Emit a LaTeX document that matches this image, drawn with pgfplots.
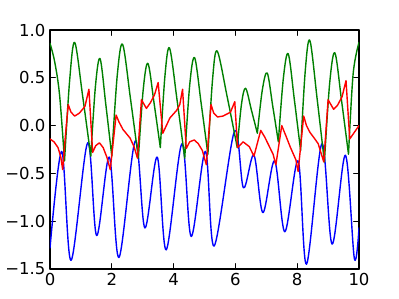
\documentclass[border=0pt]{standalone}
\usepackage{pgfplots}
\pgfplotsset{compat=1.18}
\usepackage{fontspec}
\setmainfont{DejaVu Sans}
\begin{document}
\begin{tikzpicture}[x=1pt,y=1pt]
\path[use as bounding box] (-50,-30) rectangle (349,269);
\begin{axis}[at={(0,0)}, anchor=south west, scale only axis,
  width=309pt, height=239pt,
  xmin=0, xmax=10, ymin=-1.5, ymax=1.0,
  xtick={0,2,4,6,8,10}, ytick={-1.5,-1.0,-0.5,0,0.5,1.0},
  xticklabels={0,2,4,6,8,10},
  yticklabels={−1.5,−1.0,−0.5,0.0,0.5,1.0},
  tick align=inside, major tick length=5.5pt,
  tick style={black, line width=0.7pt},
  axis line style={black, line width=1.2pt},
  ticklabel style={font=\fontsize{16.5}{18}\selectfont},
  xticklabel style={yshift=-1pt},
  yticklabel style={xshift=-1pt},
  unbounded coords=jump,
  line join=round, line cap=round,
]
% blue
\addplot[blue, line width=1.4pt, smooth, tension=0.55] coordinates {
(0,-1.28) (0.38,-0.27) (0.68,-1.41) (1.22,-0.18) (1.51,-1.15) (1.92,-0.33)
(2.23,-1.38) (2.76,-0.16) (3.07,-1.07) (3.47,-0.33) (3.76,-1.30) (4.27,-0.19)
(4.57,-1.16) (5.03,-0.27) (5.31,-1.26) (5.97,-0.06) (6.26,-0.65) (6.60,-0.31)
(6.89,-0.91) (7.27,-0.37) (7.60,-1.11) (8.03,-0.37) (8.30,-1.45) (8.80,-0.19)
(9.13,-1.24) (9.56,-0.31) (9.85,-1.39) (10,-1.07)
};
% green
\addplot[black!50!green, line width=1.4pt, smooth, tension=0.55] coordinates {
(0,0.86) (0.15,0.67) (0.31,0.32) (0.47,-0.37) (0.47,nan)
(0.47,-0.37) (0.635,0.47) (0.80,0.87) (1.06,0.30) (1.32,-0.32) (1.32,nan)
(1.32,-0.32) (1.47,0.41) (1.62,0.70) (1.81,0.21) (2.00,-0.32) (2.00,nan)
(2.00,-0.32) (2.175,0.52) (2.35,0.85) (2.605,0.28) (2.86,-0.34) (2.86,nan)
(2.86,-0.34) (3.015,0.37) (3.17,0.65) (3.37,0.23) (3.57,-0.23) (3.57,nan)
(3.57,-0.23) (3.72,0.52) (3.87,0.81) (4.115,0.26) (4.36,-0.34) (4.36,nan)
(4.36,-0.34) (4.52,0.42) (4.68,0.71) (4.895,0.225) (5.11,-0.30) (5.11,nan)
(5.11,-0.30) (5.26,0.48) (5.41,0.78) (5.735,0.30) (6.06,-0.23) (6.06,nan)
(6.06,-0.23) (6.195,0.22) (6.33,0.39) (6.52,0.16) (6.71,-0.08) (6.71,nan)
(6.71,-0.08) (6.87,0.37) (7.03,0.55) (7.21,0.20) (7.39,-0.17) (7.39,nan)
(7.39,-0.17) (7.55,0.49) (7.71,0.75) (7.91,0.265) (8.11,-0.26) (8.11,nan)
(8.11,-0.26) (8.26,0.57) (8.41,0.89) (8.645,0.28) (8.88,-0.38) (8.88,nan)
(8.88,-0.38) (9.05,0.44) (9.22,0.76) (9.44,0.25) (9.66,-0.30) (9.66,nan)
(9.66,-0.30) (9.81,0.54) (10,0.87)
};
% red
\addplot[red, line width=1.4pt] coordinates {
(0,-0.14) (0.13,-0.17) (0.26,-0.23) (0.35,-0.33) (0.41,-0.46) (0.50,-0.10)
(0.59,0.22) (0.68,0.14) (0.80,0.10) (0.95,0.13) (1.13,0.20) (1.26,0.38)
(1.38,-0.28) (1.48,-0.21) (1.60,-0.18) (1.72,-0.23) (1.84,-0.33) (1.95,-0.46)
(2.14,0.11) (2.23,0.04) (2.36,-0.04) (2.59,-0.13) (2.72,-0.22) (2.83,-0.34)
(2.96,0.27) (3.12,0.18) (3.25,0.24) (3.38,0.32) (3.50,0.45) (3.65,-0.08)
(3.88,0.08) (4.10,0.16) (4.20,0.22) (4.29,0.38) (4.41,-0.24) (4.52,-0.17)
(4.67,-0.15) (4.80,-0.19) (4.93,-0.26) (5.06,-0.41) (5.21,0.22) (5.30,0.13)
(5.42,0.09) (5.60,0.10) (5.84,0.14) (5.98,0.25) (6.07,-0.23) (6.25,-0.17)
(6.45,-0.22) (6.60,-0.32) (6.82,-0.05) (6.95,-0.12) (7.10,-0.22) (7.22,-0.30)
(7.31,-0.41) (7.50,0.00) (7.65,-0.12) (7.77,-0.22) (7.96,-0.36) (8.03,-0.48)
(8.21,0.10) (8.30,0.00) (8.41,-0.07) (8.55,-0.13) (8.68,-0.19) (8.86,-0.38)
(9.00,0.27) (9.18,0.17) (9.30,0.21) (9.45,0.30) (9.58,0.47) (9.70,-0.14)
(9.85,-0.07) (10,0.00)
};
\end{axis}
\end{tikzpicture}
\end{document}
